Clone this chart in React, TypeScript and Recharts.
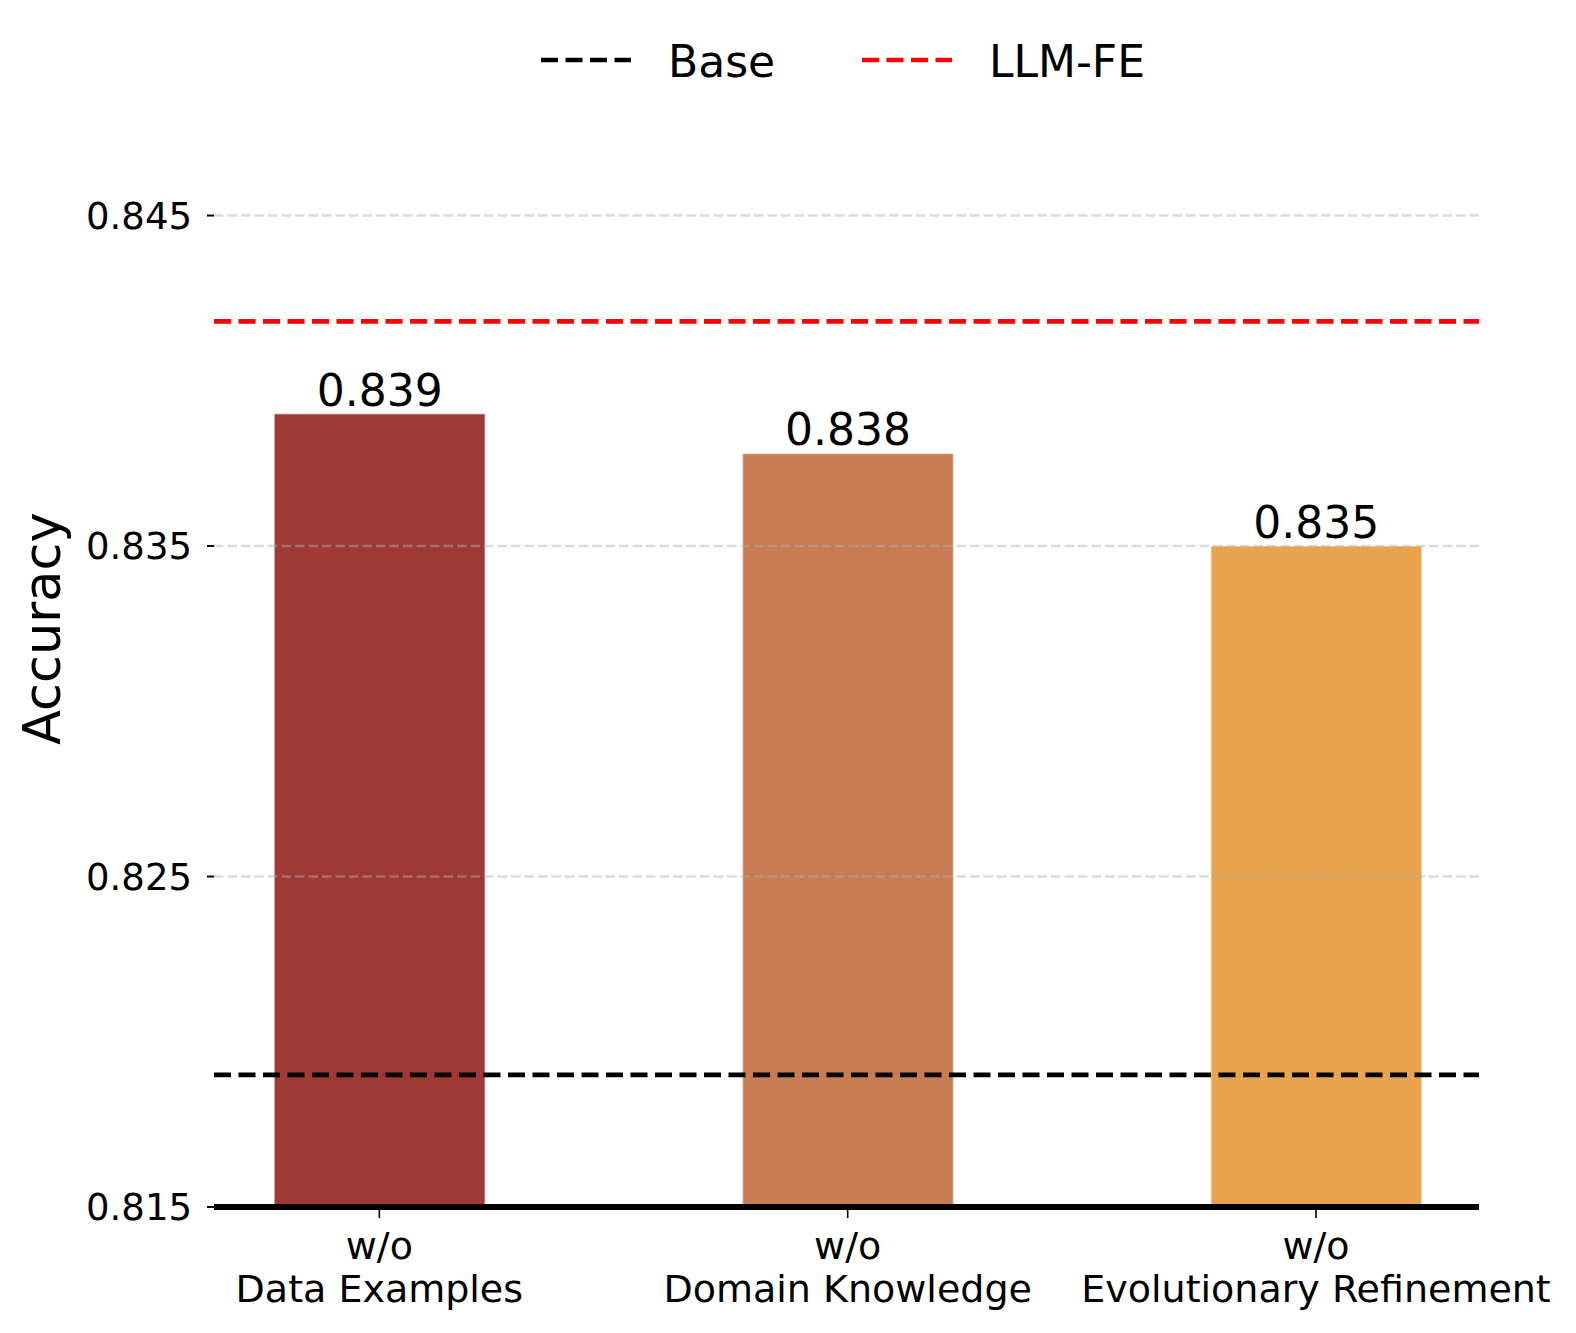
import React from 'react';
import {
    BarChart,
    Bar,
    Cell,
    XAxis,
    YAxis,
    ReferenceLine,
    LabelList,
} from 'recharts';

// ablation results
const categories = ['Data Examples', 'Domain Knowledge', 'Evolutionary Refinement'];
const accuracy = [0.839, 0.8378, 0.835];
const barColors = ['#9e3936', '#c87c52', '#eaa34d'];
const baseAccuracy = 0.819;
const llmFeAccuracy = 0.8418;
const yTicks = [0.815, 0.825, 0.835, 0.845];
const yDomain = [0.815, 0.85];
const legendItems = [
    { name: 'Base', color: '#000000' },
    { name: 'LLM-FE', color: '#ff0000' },
];

const FONT = '"DejaVu Sans", Verdana, sans-serif';
const WIDTH = 1576;
const HEIGHT = 1333;

const data = categories.map((name, i) => ({ pos: i, name, accuracy: accuracy[i] }));

const XTick = ({ x, y, payload }: any) => (
    <g>
        <text x={x} y={y + 41} textAnchor="middle" fontSize={38} fontFamily={FONT} fill="#000">
            w/o
        </text>
        <text x={x} y={y + 84} textAnchor="middle" fontSize={38} fontFamily={FONT} fill="#000">
            {categories[payload.value]}
        </text>
    </g>
);

const AccuracyLabel = ({ viewBox }: any) => {
    const cy = viewBox.y + viewBox.height / 2;
    return (
        <text
            x={60}
            y={cy}
            transform={`rotate(-90, 60, ${cy})`}
            textAnchor="middle"
            fontSize={51}
            fontFamily={FONT}
            fill="#000"
        >
            Accuracy
        </text>
    );
};

export default function App() {
    return (
        <div style={{ position: 'absolute', left: 0, top: 0, width: WIDTH, height: HEIGHT, background: '#fff' }}>
            <BarChart
                width={WIDTH}
                height={HEIGHT}
                data={data}
                margin={{ top: 50.3, right: 97, bottom: 0, left: 0 }}
            >
                <XAxis
                    dataKey="pos"
                    type="number"
                    domain={[-0.353, 2.348]}
                    allowDataOverflow
                    ticks={[0, 1, 2]}
                    interval={0}
                    height={126}
                    tick={<XTick />}
                    tickSize={11}
                    tickMargin={0}
                    tickLine={{ stroke: '#000', strokeWidth: 1.6 }}
                    axisLine={{ stroke: '#000', strokeWidth: 6 }}
                />
                <YAxis
                    type="number"
                    domain={yDomain}
                    allowDataOverflow
                    ticks={yTicks}
                    width={214}
                    tickSize={7}
                    tickMargin={15}
                    axisLine={false}
                    tickLine={{ stroke: '#000', strokeWidth: 2 }}
                    tick={{ fontSize: 37, fontFamily: FONT, fill: '#000' }}
                    tickFormatter={(v: number) => v.toFixed(3)}
                    label={<AccuracyLabel />}
                />
                <Bar dataKey="accuracy" barSize={211} isAnimationActive={false}>
                    {data.map((d, i) => (
                        <Cell key={d.name} fill={barColors[i]} stroke="#ffffff" strokeOpacity={0.5} strokeWidth={1.5} />
                    ))}
                    <LabelList
                        dataKey="accuracy"
                        position="top"
                        offset={8}
                        formatter={(v: any) => Number(v).toFixed(3)}
                        style={{ fontSize: 44, fontFamily: FONT, fill: '#000' }}
                    />
                </Bar>
                {yTicks.slice(1).map((t) => (
                    <ReferenceLine
                        key={t}
                        y={t}
                        stroke="#b0b0b0"
                        strokeOpacity={0.45}
                        strokeWidth={2.5}
                        strokeDasharray="9.5 4"
                    />
                ))}
                <ReferenceLine y={baseAccuracy} stroke="#000000" strokeWidth={4.7} strokeDasharray="17 7.5" />
                <ReferenceLine y={llmFeAccuracy} stroke="#ff0000" strokeWidth={4.7} strokeDasharray="17 7.5" />
            </BarChart>

            {/* legend, upper center inside the axes */}
            <svg width={WIDTH} height={120} style={{ position: 'absolute', left: 0, top: 0 }}>
                {legendItems.map((item, i) => {
                    const x0 = 541 + i * 321;
                    return (
                        <g key={item.name}>
                            <line
                                x1={x0}
                                x2={x0 + 90}
                                y1={60}
                                y2={60}
                                stroke={item.color}
                                strokeWidth={4.7}
                                strokeDasharray="17 7.5"
                            />
                            <text x={x0 + 127} y={77} fontSize={44} fontFamily={FONT} fill="#000">
                                {item.name}
                            </text>
                        </g>
                    );
                })}
            </svg>
        </div>
    );
}
